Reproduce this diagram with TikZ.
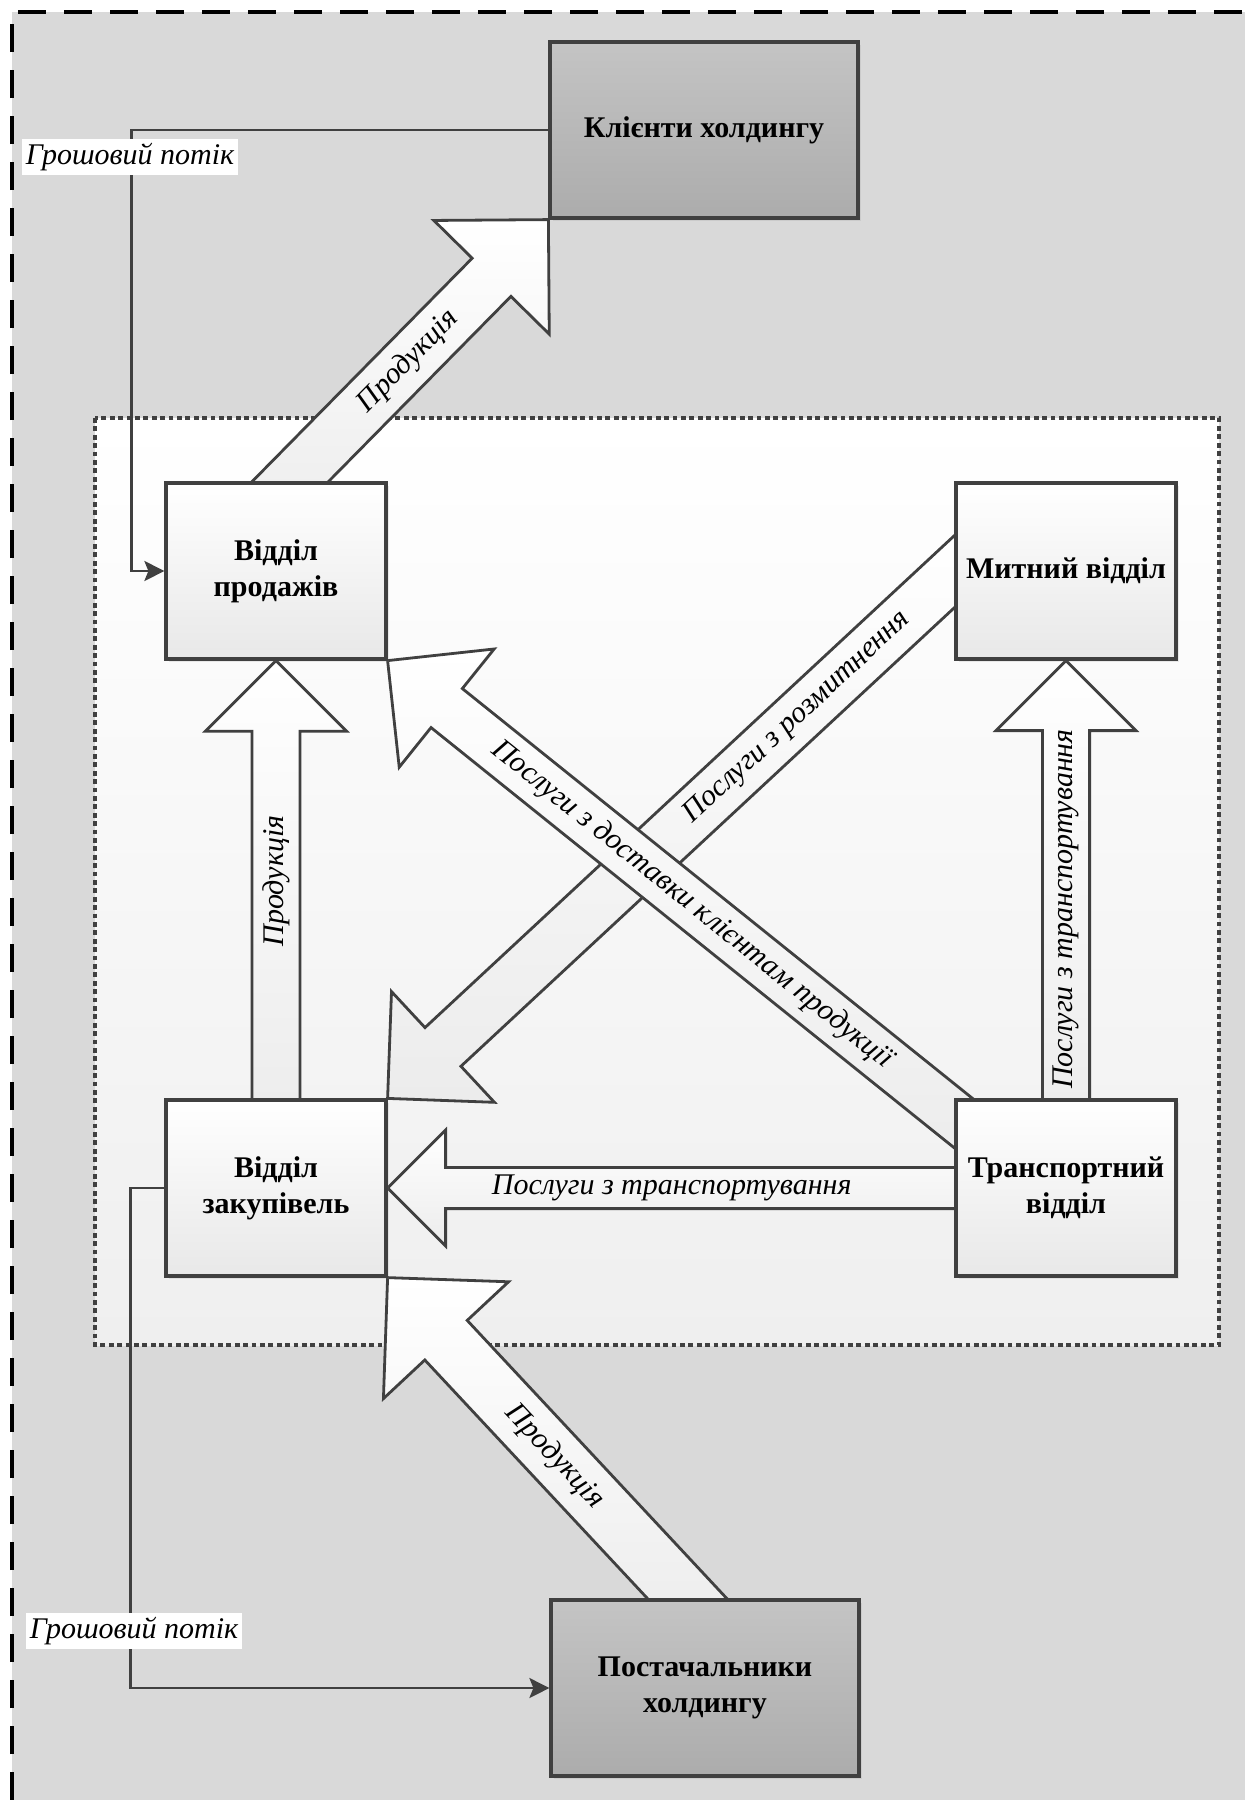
\documentclass[tikz,border=0pt]{standalone}
\usepackage{fontspec}
\setmainfont{Liberation Serif}
\usetikzlibrary{calc,arrows.meta,shadows}

\definecolor{edgegray}{HTML}{404040}
\definecolor{outergray}{HTML}{D9D9D9}
\definecolor{deptgray}{HTML}{E8E8E8}
\definecolor{partytop}{HTML}{C4C4C4}
\definecolor{partybottom}{HTML}{ACACAC}
\definecolor{flowgray}{HTML}{ECECEC}
\definecolor{innergray}{HTML}{EFEFEF}

\newcommand{\boxfont}{\fontsize{15}{18}\selectfont\bfseries}
\newcommand{\labelfont}{\fontsize{15}{18}\selectfont\itshape}

\pgfdeclarelayer{back}
\pgfdeclarelayer{flows}
\pgfsetlayers{back,flows,main}

% block arrow: start, tip, shaft half width, head half width, label pos, label
\newcommand{\flowarrow}[6]{%
  \coordinate (fh) at ($(#2)!#4!(#1)$);
  \draw[flow] ($(#1)!#3!90:(#2)$) -- ($(fh)!#3!90:(#2)$) -- ($(fh)!#4!90:(#2)$)
    -- (#2) -- ($(fh)!#4!-90:(#2)$) -- ($(fh)!#3!-90:(#2)$)
    -- ($(#1)!#3!-90:(#2)$) -- cycle;
  \path (#1) -- (#2) node[flowlabel, pos=#5, sloped] {#6};
}

\begin{document}
\begin{tikzpicture}[x=0.5pt, y=-0.5pt,
    deptbox/.style={draw=edgegray, line width=1.6pt, top color=white, bottom color=deptgray,
      minimum width=110pt, minimum height=88pt, inner sep=2pt, align=center, font=\boxfont,
      drop shadow={opacity=0.15, shadow xshift=1.5pt, shadow yshift=-1.5pt}},
    partybox/.style={deptbox, top color=partytop, bottom color=partybottom, minimum width=154pt},
    flow/.style={draw=edgegray, line width=1.4pt, top color=white, bottom color=flowgray},
    flowlabel/.style={font=\labelfont, inner sep=0pt},
    money/.style={draw=edgegray, line width=1.2pt, -{Stealth[length=10pt,width=10pt,inset=2pt]}},
    cashlabel/.style={fill=white, font=\labelfont, inner sep=2pt}]

    \useasboundingbox (0,0) rectangle (1245,1800);

    \begin{pgfonlayer}{back}
    \fill[outergray] (12,12) rectangle (1245,1800);
    \draw[line width=2pt, dash pattern=on 14pt off 9pt] (12,1800) -- (12,12) -- (1245,12);
    \draw[draw=edgegray, line width=1.6pt, dash pattern=on 2.4pt off 1.8pt,
      top color=white, bottom color=innergray] (95,418) rectangle (1219,1345);
    \end{pgfonlayer}

    \node [partybox] (klient) at (704,130) {Клієнти холдингу};
    \node [deptbox] (prod) at (276,571) {Відділ\\продажів};
    \node [deptbox] (mytn) at (1066,571) {Митний відділ};
    \node [deptbox] (zakup) at (276,1188) {Відділ\\закупівель};
    \node [deptbox] (transp) at (1066,1188) {Транспортний\\відділ};
    \node [partybox] (supp) at (705,1688) {Постачальники\\холдингу};

    \begin{pgfonlayer}{flows}
    \flowarrow{$(prod.north)+(-22,37)$}{klient.south west}{13.6pt}{40.5pt}{.525}{Продукція}
    \flowarrow{$(zakup.north)+(0,30)$}{prod.south}{12pt}{35.3pt}{.529}{Продукція}
    \flowarrow{$(transp.north)+(0,30)$}{mytn.south}{11.8pt}{35pt}{.469}{Послуги з транспортування}
    \flowarrow{$(transp.west)+(30,0)$}{zakup.east}{10.3pt}{29pt}{.524}{Послуги з транспортування}
    \flowarrow{$(mytn.west)+(34,-31)$}{zakup.north east}{13.2pt}{37.8pt}{.318}{Послуги з розмитнення}
    \flowarrow{$(transp.north west)+(33,44)$}{prod.south east}{12.5pt}{37.9pt}{.4925}{Послуги з доставки клієнтам продукції}
    \flowarrow{$(supp.north)+(11,31)$}{zakup.south east}{14.5pt}{42.8pt}{.491}{Продукція}
    \end{pgfonlayer}

    \draw[money] (klient.west) -| ($(prod.west)+(-33,0)$) -- (prod.west);
    \draw[money] (zakup.west) -- ++(-34,0) |- (supp.west);
    \node [cashlabel] (cash1) at (130,157) {Грошовий потік};
    \node [cashlabel] (cash2) at (134,1631) {Грошовий потік};

\end{tikzpicture}
\end{document}
